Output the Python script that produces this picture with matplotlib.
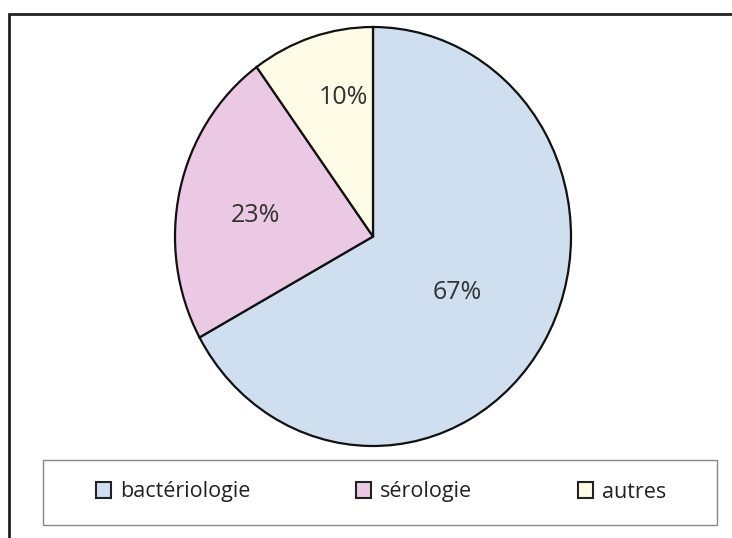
import matplotlib
matplotlib.use("Agg")
import numpy as np
import matplotlib.pyplot as plt
from matplotlib.patches import Rectangle

LABELS = ["bactériologie", "sérologie", "autres"]
PCTS = [67, 23, 10]
COLORS = ["#cfdff0", "#ebc9e4", "#fefbe6"]
# where each percentage sits: fraction of radius, and angle nudge off the wedge middle
PCT_DIST = [0.50, 0.60, 0.68]
PCT_NUDGE = [-1.5, 3.0, -5.5]

W, H = 732, 538

fig = plt.figure(figsize=(W/100, H/100), dpi=100)
plt.rcParams["font.family"] = ["Open Sans", "DejaVu Sans"]

# outer frame of the picture
frame = Rectangle((9/W, -0.02), 1.0, (H-14)/H + 0.02, transform=fig.transFigure,
                  fill=False, edgecolor="#222222", linewidth=2.0)
fig.patches.append(frame)

# pie is slightly taller than wide in the original, so no equal aspect
ax = fig.add_axes([175/W, (H-446)/H, 396/W, 419/H])
wedges, texts, autotexts = ax.pie(PCTS, colors=COLORS, startangle=90, counterclock=False,
                                  autopct="%d%%", pctdistance=0.6,
                                  wedgeprops=dict(edgecolor="#111111", linewidth=1.6),
                                  textprops=dict(fontsize=18, color="#333333"))
ax.set_aspect("auto")
ax.set_xlim(-1.0, 1.0)
ax.set_ylim(-1.0, 1.0)

for w, t, d, n in zip(wedges, autotexts, PCT_DIST, PCT_NUDGE):
  mid = np.deg2rad((w.theta1 + w.theta2) / 2.0 + n)
  t.set_position((d*np.cos(mid), d*np.sin(mid)))

# legend box
box = Rectangle((43/W, (H-525)/H), 674/W, 65/H, transform=fig.transFigure,
                fill=False, edgecolor="#888888", linewidth=1.0)
fig.patches.append(box)

handles = [Rectangle((0, 0), 1, 1, facecolor=c, edgecolor="#222222", linewidth=1.5) for c in COLORS]
leg = fig.legend(handles, LABELS, loc="center", ncol=3,
                 bbox_to_anchor=(381/W, (H-492)/H),
                 frameon=False, fontsize=15.5,
                 handlelength=0.72, handleheight=0.72, handletextpad=0.4,
                 columnspacing=4.9, borderpad=0, borderaxespad=0)
for t in leg.get_texts():
  t.set_color("#222222")

fig.savefig("out.png", dpi=100)
